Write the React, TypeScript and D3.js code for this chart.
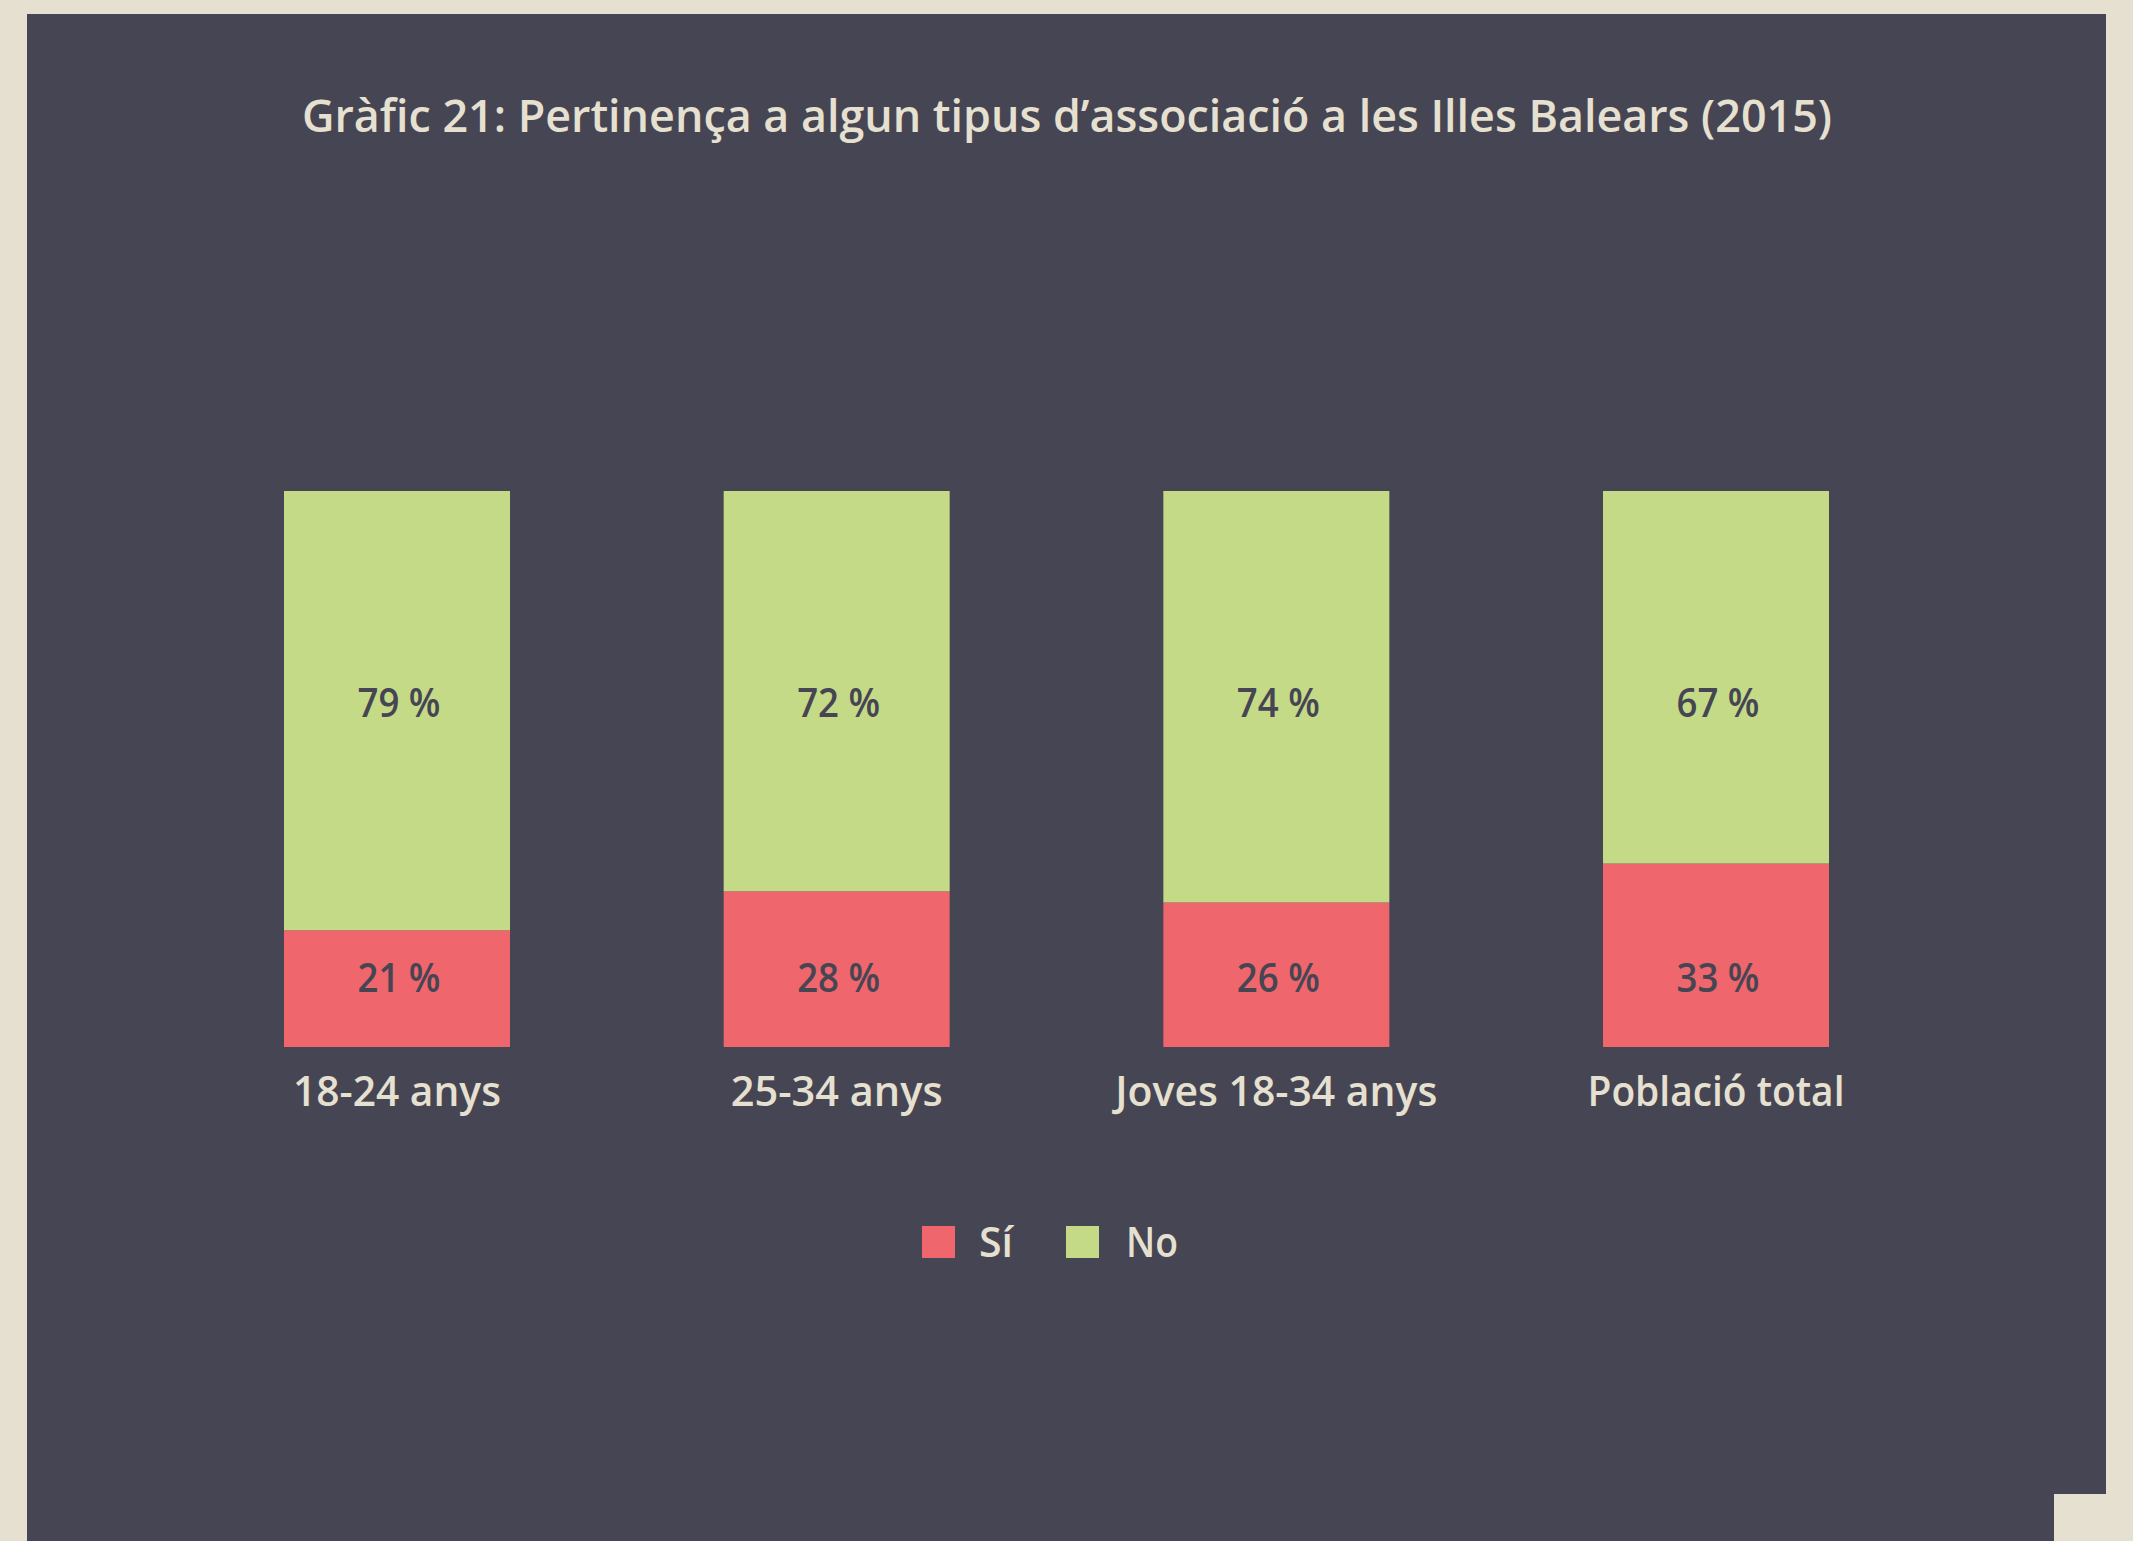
import React from "react";
import * as d3 from "d3";

const categories = ["18-24 anys", "25-34 anys", "Joves 18-34 anys", "Població total"];
const siValues = [21, 28, 26, 33];
const noValues = [79, 72, 74, 67];
const seriesNames = ["Sí", "No"];
const titleText = "Gràfic 21: Pertinença a algun tipus d’associació a les Illes Balears (2015)";

const W = 2133;
const H = 1541;
const BG = "#e6e0d0";
const PANEL = "#464553";
const RED = "#ef666d";
const GREEN = "#c4da87";
const LIGHT = "#e6e0d0";
const FONT = "'Open Sans', 'Noto Sans', sans-serif";

const catWidths = [208, 212, 322, 257];

export default function App() {
  const x = d3.scaleBand<string>().domain(categories).range([284, 1829]).paddingInner(0.486).paddingOuter(0);
  const y = d3.scaleLinear().domain([0, 100]).range([1047, 491]);
  const bw = x.bandwidth();
  const stack = d3.stack<any>().keys(["si", "no"])(
    categories.map((c, i) => ({ cat: c, si: siValues[i], no: noValues[i] }))
  );
  const colors = [RED, GREEN];
  const labelLevels = [12.5, 62];

  return (
    <svg width={W} height={H} style={{ display: "block", position: "absolute", left: 0, top: 0 }}>
      <rect x={0} y={0} width={W} height={H} fill={BG} />
      <rect x={27} y={14} width={2106 - 27} height={H - 14} fill={PANEL} />
      <rect x={2054} y={1494} width={W - 2054} height={H - 1494} fill={BG} />
      <text
        x={1067}
        y={132}
        textAnchor="middle"
        fill={LIGHT}
        fontFamily={FONT}
        fontWeight={600}
        fontSize={46}
        textLength={1530}
        lengthAdjust="spacingAndGlyphs"
      >
        {titleText}
      </text>
      {stack.map((layer, li) => (
        <g key={li}>
          {layer.map((d, i) => (
            <rect
              key={i}
              x={x(categories[i])}
              y={y(d[1])}
              width={bw}
              height={y(d[0]) - y(d[1])}
              fill={colors[li]}
            />
          ))}
          {layer.map((d, i) => (
            <text
              key={"t" + i}
              x={(x(categories[i]) as number) + bw / 2 + 2}
              y={y(labelLevels[li])}
              dy="0.36em"
              textAnchor="middle"
              fill={PANEL}
              fontFamily={FONT}
              fontWeight={600}
              fontSize={40}
              textLength={83}
              lengthAdjust="spacingAndGlyphs"
            >
              {(li === 0 ? siValues[i] : noValues[i]) + " %"}
            </text>
          ))}
        </g>
      ))}
      {categories.map((c, i) => (
        <text
          key={c}
          x={(x(c) as number) + bw / 2}
          y={1106}
          textAnchor="middle"
          fill={LIGHT}
          fontFamily={FONT}
          fontWeight={600}
          fontSize={42}
          textLength={catWidths[i]}
          lengthAdjust="spacingAndGlyphs"
        >
          {c}
        </text>
      ))}
      <g>
        <rect x={922} y={1226} width={33} height={32} fill={RED} />
        <text x={979} y={1257} fill={LIGHT} fontFamily={FONT} fontWeight={600} fontSize={42} textLength={34} lengthAdjust="spacingAndGlyphs">
          {seriesNames[0]}
        </text>
        <rect x={1066} y={1226} width={33} height={32} fill={GREEN} />
        <text x={1126} y={1257} fill={LIGHT} fontFamily={FONT} fontWeight={600} fontSize={42} textLength={52} lengthAdjust="spacingAndGlyphs">
          {seriesNames[1]}
        </text>
      </g>
    </svg>
  );
}
